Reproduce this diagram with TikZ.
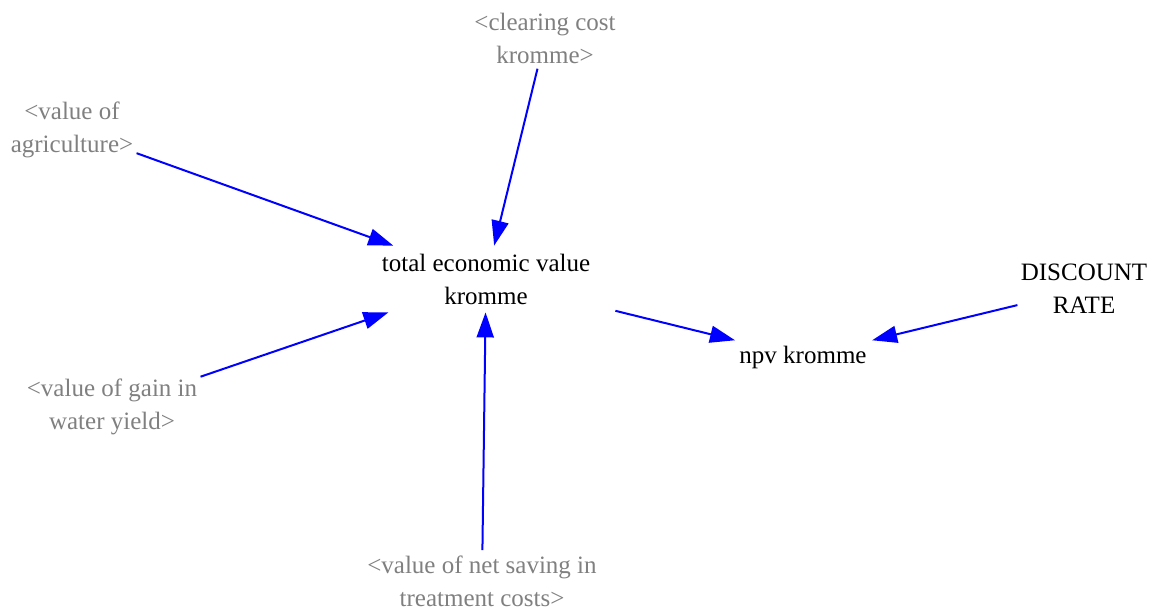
\documentclass[tikz,border=0pt]{standalone}
\usepackage{fontspec}
\setmainfont{Liberation Serif}
\newfontfamily\timesfont{Liberation Serif}
\usetikzlibrary{arrows.meta}
\definecolor{shadow}{RGB}{128,128,128}
\begin{document}
\begin{tikzpicture}[x=0.5pt,y=-0.5pt,line join=round,
		font=\timesfont\fontsize{12.5}{16.5}\selectfont,
		var/.style={align=center,inner xsep=1.5pt,inner ysep=2.5pt},
		ghost/.style={var,text=shadow},
		link/.style={blue,line width=1pt,-{Triangle[length=12.5pt,width=8.5pt]}}]
	\useasboundingbox (0,0) rectangle (1165,610);
	
	\node[var,minimum width=129pt,minimum height=33pt] (tev) at (486,279) {total economic value\\kromme};
	\node[var,minimum width=76.5pt] (npv) at (803,357) {npv kromme};
	\node[var] (rate) at (1084,289) {DISCOUNT\\RATE};
	
	\node[ghost] (clear) at (545,38) {<clearing cost\\kromme>};
	\node[ghost] (agri) at (72,130) {<value of\\agriculture>};
	\node[ghost] (water) at (112,407) {<value of gain in\\water yield>};
	\node[ghost] (saving) at (482,581) {<value of net saving in\\treatment costs>};
	
	\draw[link] (agri)--(tev);
	\draw[link] (clear)--(tev);
	\draw[link] (water)--(tev);
	\draw[link] (saving)--(tev);
	\draw[link] (tev)--(npv);
	\draw[link] (rate)--(npv);
\end{tikzpicture}
\end{document}
